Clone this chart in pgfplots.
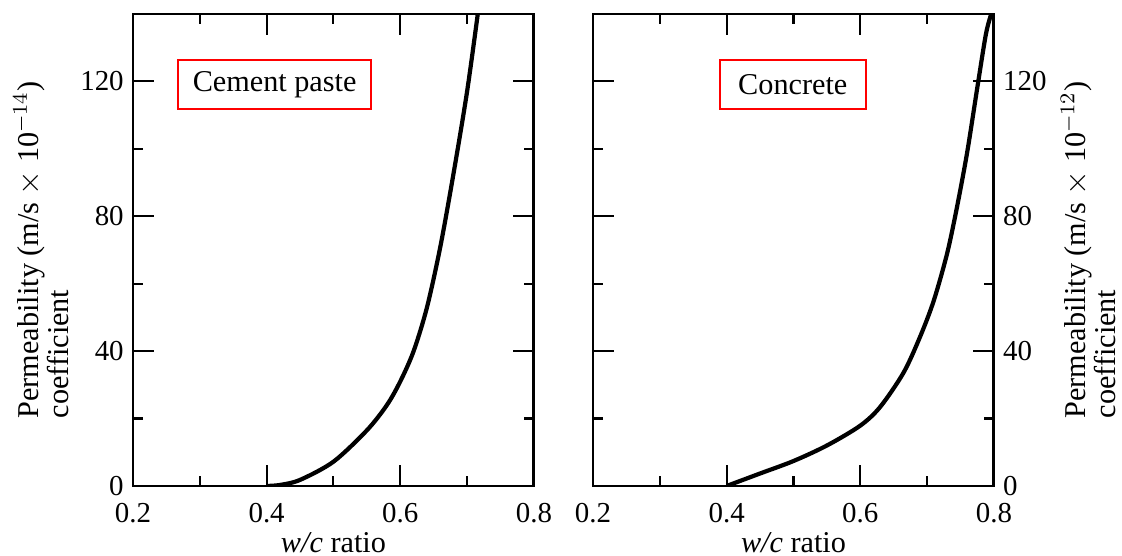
\documentclass[border=0pt]{standalone}
\usepackage{fontspec}
\setmainfont{Liberation Serif}
\usepackage{pgfplots}
\pgfplotsset{compat=1.18}
\begin{document}
\begin{tikzpicture}
\tikzset{
  labbox/.style={draw=red, line width=0.8pt, minimum height=0.655cm,
    font=\fontsize{11.5}{13.5}\selectfont, inner sep=0pt},
}
\pgfplotsset{
  perm/.style={
    scale only axis, width=5.36cm, height=6.31cm,
    xmin=0.2, xmax=0.8, ymin=0, ymax=140,
    xtick={0.2,0.4,0.6,0.8}, ytick={0,40,80,120},
    minor xtick={0.3,0.5,0.7}, minor ytick={20,60,100,140},
    xticklabel style={/pgf/number format/fixed, /pgf/number format/precision=1,
      /pgf/number format/fixed zerofill, yshift=-3pt},
    /pgf/number format/assume math mode=true,
    tick align=inside, major tick length=0.28cm, minor tick length=0.13cm,
    axis line style={line width=1.1pt},
    every tick/.style={black, line width=0.8pt},
    tick label style={font=\fontsize{11}{13}\selectfont},
    label style={font=\fontsize{11.5}{13.5}\selectfont},
    xlabel={\textit{w/c} ratio},
    xlabel shift=-3pt,
    clip=true,
  },
  ylab/.style={ylabel style={align=left, font=\fontsize{11.5}{11.5}\selectfont}},
}
\begin{axis}[perm, ylab, ylabel shift=-2.5pt,
  ylabel={Permeability (m/s $\times$ 10$^{-14}$)\\coefficient}]
\addplot[black, line width=1.6pt, smooth] coordinates {
  (0.40,0) (0.42,0.3) (0.45,1.8) (0.50,7.2) (0.55,16.5) (0.58,24)
  (0.60,31) (0.62,40) (0.64,53) (0.66,71) (0.68,93) (0.70,117) (0.716,140)};
\node[labbox, minimum width=2.58cm] at (axis cs:0.412,119.1) {Cement paste};
\end{axis}
\begin{axis}[perm, xshift=6.15cm,
  yticklabel pos=right, ylabel near ticks, ylab,
  ylabel shift=-1.5pt,
  ylabel={Permeability (m/s $\times$ 10$^{-12}$)\\coefficient}]
\addplot[black, line width=1.6pt, smooth] coordinates {
  (0.40,0) (0.45,3.7) (0.50,7.4) (0.55,12) (0.60,17.9) (0.63,23.5)
  (0.665,33.7) (0.69,44.5) (0.71,55) (0.73,69) (0.745,83) (0.76,99)
  (0.775,118) (0.788,134) (0.796,140)};
\node[labbox, minimum width=1.95cm] at (axis cs:0.499,119.1) {Concrete};
\end{axis}
\pgfresetboundingbox
\path (-1.778,-0.936) rectangle (13.222,6.497);
\end{tikzpicture}
\end{document}
